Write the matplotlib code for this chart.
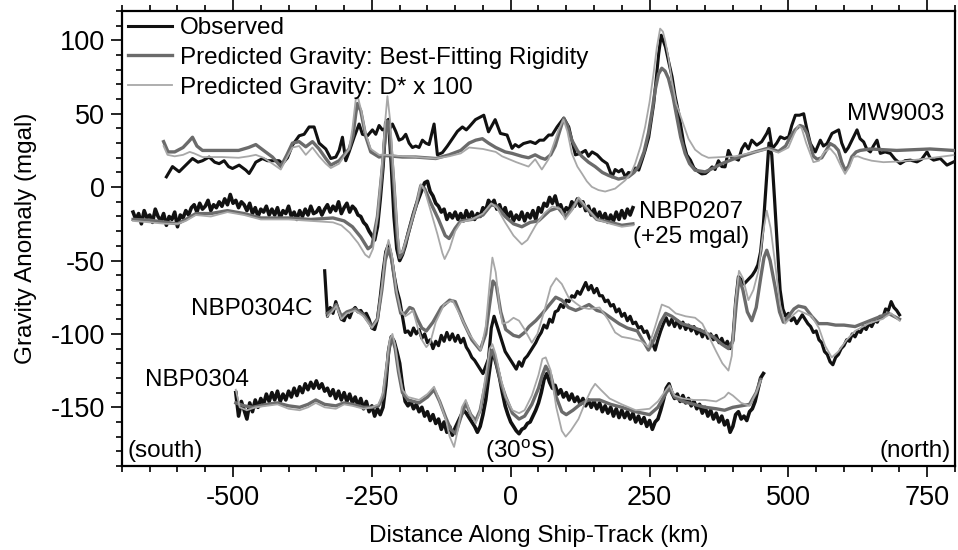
"""Gravity anomaly profiles along four ship tracks, observed vs. predicted."""

import numpy as np
import matplotlib

matplotlib.use("Agg")

import matplotlib.pyplot as plt  # noqa: E402
from matplotlib.lines import Line2D  # noqa: E402
from matplotlib.ticker import MultipleLocator  # noqa: E402

plt.rcParams["font.family"] = ["Liberation Sans", "DejaVu Sans"]
plt.rcParams["axes.unicode_minus"] = False

OBS_COLOR = "#111111"
BEST_COLOR = "#6b6b6b"
DSTAR_COLOR = "#a8a8a8"

# ---------------------------------------------------------------- MW9003
MW9003_OBS = [
    (-620, 7), (-609, 14), (-597, 10.5), (-585, 15), (-573, 19.5), (-563, 17),
    (-555, 18), (-543, 20.5), (-533, 17), (-525, 16), (-516, 18), (-508, 14),
    (-501, 12.7), (-489, 15), (-477, 11.6), (-471, 9.3), (-465, 13), (-459, 17),
    (-447, 19.5), (-438, 18), (-429, 18), (-417, 18), (-411, 16), (-402, 20),
    (-393, 28.6), (-381, 35), (-372, 36), (-363, 41), (-354, 41), (-345, 30),
    (-333, 26), (-324, 19.5), (-315, 20.5), (-309, 25), (-303, 34), (-297, 18),
    (-291, 24), (-282, 34), (-273, 43), (-267, 36), (-258, 35), (-249, 39),
    (-243, 36), (-237, 42), (-231, 39), (-225, 40), (-219, 39), (-213, 43),
    (-207, 38), (-201, 32), (-195, 33), (-189, 36), (-183, 30), (-177, 27),
    (-171, 28), (-165, 27), (-159, 32), (-153, 30), (-147, 29), (-138, 43),
    (-132, 22), (-123, 23.5), (-114, 28), (-105, 33), (-96, 38), (-87, 41),
    (-80, 39), (-75, 41), (-63.5, 46), (-48.5, 49), (-40, 37.7), (-28, 46),
    (-18.6, 36.6), (-6.6, 35.5), (2.4, 26.4), (8, 29), (14.4, 27.4), (23, 29.7),
    (35.4, 31), (44.4, 29.7), (52, 32), (59.4, 32), (68.4, 35.5), (74.4, 35.5),
    (83.5, 41), (95.5, 47), (104.5, 41), (110, 32), (116.5, 22), (125.5, 23),
    (134.5, 25), (140, 21), (146.5, 24), (155.5, 22), (164.5, 18.4), (173.5, 16),
    (182.5, 7), (188, 12), (194.5, 10.4), (200, 12), (206.5, 7), (212, 10),
    (218.5, 9.3), (224, 13), (230.5, 11.6), (236.5, 18.4), (242, 25), (248.5, 34),
    (257.5, 57), (266.5, 91), (271, 103.5), (278.6, 95.5), (284, 86), (290.6, 75),
    (296, 62), (302.6, 50), (311.6, 29.7), (317, 22), (323.6, 18.4), (330, 13),
    (338.6, 10.4), (344, 9), (350.6, 9.3), (356, 11), (362.6, 13.8), (368, 12),
    (374, 18), (380, 14), (386, 13.8), (392, 25), (398, 20), (404, 19.5),
    (410, 18.4), (416, 26), (422, 29.7), (428, 26), (434, 32), (443, 28.6),
    (452, 31), (461, 36.6), (465, 40), (470, 28), (473.5, 27.4), (479, 30),
    (485.5, 34.3), (493, 33), (500.5, 34.3), (506, 42), (512.5, 49), (520, 49),
    (527.5, 50), (533, 40), (539.5, 29.7), (548.5, 24), (557.5, 32), (563, 28),
    (569.5, 29.7), (578.5, 36.6), (590.5, 39), (596, 30), (602.5, 24), (608, 27),
    (614.5, 32), (623.5, 39), (629, 33), (635.5, 30.8), (641, 26), (647.5, 24),
    (653, 28), (659.5, 32), (665.5, 23), (674, 24), (683.5, 23), (692, 19),
    (701.5, 16), (710, 18), (719.5, 18.4), (731.5, 17.2), (740, 19), (749.5, 24),
    (755, 20), (761.5, 18.4), (773.5, 19.5), (785.5, 15), (797.5, 17.2),
]
MW9003_BEST = [
    (-625, 31), (-617, 24), (-605, 24), (-590, 27), (-580, 31), (-573, 34),
    (-565, 28), (-555, 25), (-520, 25), (-490, 25), (-472, 27), (-459, 29),
    (-445, 25), (-429, 20.5), (-414, 14), (-403, 22), (-393, 30), (-381, 31),
    (-369, 27.5), (-357, 31), (-345, 26), (-333, 19.5), (-324, 15), (-309, 18),
    (-291, 26), (-284, 35), (-279, 50), (-276, 57), (-270, 52), (-261, 34.5),
    (-252, 24), (-237, 20.5), (-225, 21.5), (-195, 20.5), (-171, 20.5),
    (-135, 19.5), (-111, 22), (-90, 25), (-75, 30), (-63, 32), (-51, 33),
    (-40, 30), (-27, 27), (-10, 24), (2.4, 23), (20, 21), (32, 20), (44, 22),
    (54, 20), (62, 19), (72, 22), (80, 28), (88, 38), (95.5, 47), (102, 42),
    (110, 32), (120, 25), (128, 21), (140, 17), (152, 14), (165, 10), (176, 8),
    (194, 5.5), (212, 7), (222, 10), (230, 14), (240, 24), (248, 37), (255, 53),
    (260, 66), (266, 77), (272, 81), (278, 79), (284, 74), (292, 62), (299, 48),
    (306, 34), (314, 23), (322, 16), (332, 11.5), (350, 10.4), (365, 13),
    (380, 16), (400, 19), (416, 21), (440, 24), (464, 26.6), (482, 24.3),
    (495, 28), (503, 34), (512, 39), (521, 42), (527, 41), (533, 37), (540, 28),
    (545, 21), (552, 19), (560, 20), (568, 25), (575, 29.7), (583, 28), (590, 25),
    (596, 17), (602, 11.6), (608, 14), (614, 20.6), (622, 24), (629, 25),
    (647, 26), (695, 25), (755, 26), (797, 25),
]
MW9003_DSTAR = [
    (-625, 28), (-618, 22), (-605, 21), (-590, 22), (-578, 24), (-570, 23),
    (-555, 20.5), (-520, 20.5), (-490, 20), (-472, 21), (-459, 22), (-445, 20),
    (-429, 16), (-414, 12), (-403, 20), (-393, 27), (-381, 28), (-369, 22),
    (-357, 27), (-345, 21), (-333, 16), (-324, 13), (-309, 16), (-291, 26),
    (-285, 40), (-279, 60), (-275, 61), (-269, 52), (-261, 36), (-252, 26),
    (-237, 22), (-225, 22), (-195, 21), (-171, 20.5), (-135, 19.5), (-111, 21),
    (-90, 23), (-75, 27), (-50, 26), (-27, 24), (-15.5, 21), (10, 17), (32, 14),
    (44, 19), (56, 12), (68, 19), (78, 30), (86, 39), (95, 46), (102, 38),
    (110, 23), (120, 14), (128, 9.4), (137, 4), (146, 0.2), (158, -2), (170, -3),
    (188, -1), (206, 4.6), (216, 9), (224, 16), (234, 28), (242, 41), (250, 58),
    (257, 77), (263, 95), (269, 108), (274, 106), (278, 100), (284, 88),
    (290, 73), (298, 57), (308, 46), (320, 33), (332, 25.5), (344, 22),
    (356, 20), (380, 20.5), (404, 21), (440, 24), (464, 26), (482, 23.5),
    (500, 27), (510, 36), (518, 42), (524, 40), (532, 30), (545, 17), (555, 18),
    (565, 24), (575, 26.4), (585, 22), (595, 14), (602, 9), (610, 14),
    (617, 20.6), (625, 21), (635, 19.5), (650, 18), (671, 17), (700, 17.5),
    (725, 18.4), (760, 20), (797, 21.8),
]

# ---------------------------------------------------------------- NBP0207 (+25 mgal)
NBP0207_OBS_START, NBP0207_OBS_STEP = -680, 5
NBP0207_OBS = [
    -17, -22, -18, -25, -16, -21, -19, -24, -15, -20,
    -23, -18, -26, -20, -22, -17, -27, -19, -21, -16,
    -19, -14, -12, -17, -11, -15, -13, -9, -16, -12,
    -14, -10, -13, -8, -12, -5, -11, -9, -14, -10,
    -12, -16, -11, -18, -14, -20, -15, -17, -13, -19,
    -15, -19, -14, -21, -16, -18, -13, -20, -17, -22,
    -16, -20, -15, -19, -13, -18, -17, -14, -19, -15,
    -12, -17, -13, -16, -10, -18, -14, -11, -17, -13,
    -15, -19, -20, -24, -26, -30, -33, -36, -27, -8,
    14, 44, 46, 16, -20, -42, -50, -46, -40, -32,
    -25, -18, -12, -7, -2, 3, 4, -3, -6, -11,
    -13, -17, -15, -22, -18, -21, -17, -22, -18, -23,
    -16, -21, -17, -22, -18, -20, -14, -16, -9, -12,
    -9, -15, -12, -18, -14, -21, -17, -23, -19, -22,
    -17, -23, -18, -21, -16, -22, -14, -17, -11, -13,
    -7, -11, -6, -13, -12, -18, -14, -16, -10, -13,
    -8, -13, -10, -16, -13, -19, -15, -21, -17, -22,
    -18, -24, -19, -23, -17, -22, -16, -21, -15, -19,
    -14,
]
NBP0207_BEST = [
    (-680, -22), (-650, -22.5), (-620, -24), (-600, -25), (-585, -22),
    (-567, -18), (-540, -18), (-510, -16), (-480, -18), (-450, -21), (-400, -21),
    (-360, -22), (-320, -21), (-300, -23), (-285, -27), (-270, -34), (-257, -42),
    (-250, -40), (-240, -20), (-232, 10), (-226, 35), (-222, 45), (-217, 35),
    (-210, 0), (-204, -35), (-200, -48), (-195, -45), (-185, -32), (-170, -12),
    (-162, 1), (-155, -1), (-145, -10), (-130, -22), (-118, -33), (-111, -35),
    (-100, -28), (-90, -23), (-70, -22), (-50, -19), (-35, -12), (-25, -13),
    (-10, -20), (5, -25), (20, -27), (35, -24), (50, -23), (70, -16), (85, -14),
    (98, -20), (110, -15), (122, -8), (135, -14), (155, -22), (180, -24),
    (200, -26), (220, -25),
]
NBP0207_DSTAR = [
    (-680, -23), (-650, -24), (-620, -25), (-600, -25), (-585, -23),
    (-567, -19), (-540, -20), (-510, -17), (-480, -19), (-450, -22), (-400, -22),
    (-360, -23), (-320, -24), (-305, -26), (-290, -31), (-275, -38), (-262, -46),
    (-255, -48), (-248, -42), (-240, -20), (-232, 15), (-226, 45), (-222, 62),
    (-217, 45), (-210, 5), (-204, -30), (-200, -45), (-195, -44), (-185, -32),
    (-170, -12), (-162, 2), (-155, -2), (-145, -15), (-132, -32), (-123, -45),
    (-119, -49), (-110, -42), (-100, -30), (-90, -24), (-70, -22), (-50, -18),
    (-35, -11), (-25, -14), (-10, -24), (5, -33), (20, -39), (30, -36),
    (45, -26), (60, -18), (75, -13), (90, -15), (98, -22), (110, -16), (122, -7),
    (135, -13), (155, -22), (180, -25), (200, -27), (220, -26),
]

# ---------------------------------------------------------------- NBP0304C
NBP0304C_OBS_START, NBP0304C_OBS_STEP = -335, 5
NBP0304C_OBS = [
    -57, -88, -82, -86, -78, -84, -90, -91, -86, -89,
    -84, -82, -85, -84, -87, -86, -90, -96, -97, -90,
    -75, -58, -44, -39, -47, -60, -70, -77, -88, -99,
    -98, -101, -96, -100, -97, -103, -100, -106, -104, -110,
    -105, -108, -101, -105, -99, -104, -100, -105, -101, -106,
    -103, -109, -112, -116, -118, -121, -124, -127, -122, -117,
    -96, -88, -94, -100, -106, -112, -115, -118, -121, -124,
    -119, -122, -117, -115, -112, -109, -106, -102, -99, -94,
    -96, -90, -92, -85, -84, -80, -82, -77, -78, -74,
    -75, -71, -73, -69, -65, -70, -67, -72, -69, -74,
    -74, -78, -77, -81, -80, -85, -83, -88, -86, -91,
    -88, -93, -92, -96, -95, -99, -98, -103, -106, -111,
    -104, -98, -93, -89, -94, -90, -95, -91, -96, -92,
    -97, -94, -98, -95, -100, -97, -102, -98, -103, -100,
    -104, -101, -106, -103, -108, -105, -110, -104, -78, -61,
    -63, -66, -64, -62, -60, -57, -53, -44, -25, 2,
    30, 22, -8, -40, -70, -83, -88, -86, -91, -89,
    -93, -90, -87, -90, -93, -95, -99, -98, -104, -106,
    -112, -114, -119, -121, -116, -114, -110, -108, -104, -105,
    -100, -102, -98, -99, -95, -97, -93, -95, -91, -92,
    -88, -89, -83, -84, -78, -82, -84, -87,
]
NBP0304C_BEST = [
    (-330, -86), (-322, -84), (-314, -80), (-305, -88), (-295, -85), (-280, -83),
    (-265, -87), (-250, -95), (-240, -90), (-232, -70), (-226, -50), (-220, -42),
    (-214, -50), (-206, -72), (-198, -86), (-190, -86), (-182, -82), (-176, -83),
    (-168, -90), (-160, -96), (-152, -98), (-140, -92), (-125, -82), (-110, -77),
    (-100, -78), (-85, -92), (-70, -104), (-55, -111), (-45, -100), (-38, -80),
    (-32, -64), (-26, -67), (-18, -85), (-9, -97), (5, -101), (15, -102),
    (25, -99), (33, -95), (45, -91), (57, -86), (70, -80), (81, -75), (92, -77),
    (104, -82), (117, -84), (130, -82), (141, -80), (155, -84), (165, -85),
    (180, -89), (195, -93), (210, -96), (228, -98), (248, -111), (258, -104),
    (270, -92), (279, -86), (290, -88), (308, -93), (325, -95), (345, -98),
    (365, -102), (380, -107), (392, -110), (400, -105), (406, -80), (411, -62),
    (418, -70), (426, -85), (434, -91), (442, -82), (450, -62), (456, -48),
    (461, -43), (467, -50), (476, -68), (484, -85), (491, -92), (500, -88),
    (510, -83), (518, -81), (530, -82), (542, -88), (554, -93), (570, -93),
    (585, -94), (600, -94), (620, -95), (640, -92), (660, -89), (680, -86),
    (700, -90),
]
NBP0304C_DSTAR = [
    (-330, -88), (-322, -85), (-314, -81), (-305, -90), (-295, -86), (-280, -84),
    (-265, -88), (-250, -96), (-240, -90), (-232, -68), (-226, -46), (-220, -36),
    (-214, -46), (-206, -70), (-198, -84), (-190, -88), (-182, -86), (-176, -84),
    (-168, -95), (-160, -104), (-152, -109), (-145, -106), (-135, -92),
    (-120, -80), (-105, -77), (-90, -88), (-75, -100), (-60, -108), (-54, -111),
    (-45, -95), (-38, -66), (-33, -48), (-27, -58), (-20, -82), (-15, -93),
    (-5, -92), (5, -89), (15, -91), (25, -97), (38, -106), (48, -100), (60, -85),
    (72, -68), (82, -62), (92, -66), (104, -75), (117, -79), (128, -82),
    (141, -83), (160, -82), (175, -90), (188, -99), (200, -102), (215, -103),
    (235, -105), (248, -109), (260, -95), (272, -80), (285, -82), (297, -86),
    (315, -88), (332, -89), (345, -93), (357, -102), (370, -112), (381, -120),
    (392, -125), (398, -115), (404, -80), (411, -57), (418, -62), (428, -77),
    (437, -70), (446, -57), (454, -32), (461, -16), (468, -28), (476, -52),
    (485, -80), (494, -93), (506, -88), (518, -84), (530, -86), (542, -88),
    (555, -96), (566, -108), (578, -116), (590, -112), (605, -104), (620, -98),
    (644, -93), (668, -90), (685, -86), (700, -91),
]

# ---------------------------------------------------------------- NBP0304
NBP0304_OBS_START, NBP0304_OBS_STEP = -495, 5
NBP0304_OBS = [
    -140, -156, -146, -152, -158, -147, -153, -145, -150, -144,
    -148, -141, -146, -140, -145, -139, -146, -141, -145, -139,
    -143, -137, -142, -136, -140, -134, -138, -133, -137, -132,
    -137, -134, -139, -137, -142, -138, -144, -139, -145, -140,
    -146, -141, -147, -143, -149, -144, -151, -146, -153, -149,
    -156, -151, -155, -150, -135, -112, -102, -105, -112, -120,
    -135, -146, -149, -146, -151, -148, -153, -150, -156, -153,
    -159, -155, -161, -158, -165, -160, -167, -163, -169, -164,
    -160, -156, -152, -154, -157, -160, -163, -167, -163, -155,
    -145, -130, -116, -115, -122, -130, -140, -149, -155, -160,
    -163, -166, -168, -165, -164, -161, -160, -156, -152, -147,
    -140, -131, -127, -133, -137, -135, -141, -138, -143, -140,
    -145, -141, -146, -143, -148, -144, -149, -145, -150, -146,
    -151, -147, -153, -149, -154, -150, -156, -151, -157, -152,
    -157, -153, -158, -154, -160, -156, -161, -157, -163, -159,
    -165, -160, -158, -152, -145, -137, -134, -140, -144, -141,
    -146, -142, -147, -144, -149, -146, -151, -148, -154, -150,
    -156, -152, -158, -154, -160, -156, -162, -159, -167, -163,
    -155, -153, -158, -156, -159, -153, -151, -146, -138, -130,
    -127,
]
NBP0304_BEST = [
    (-495, -147), (-480, -149), (-465, -150), (-440, -148), (-420, -147),
    (-400, -149), (-380, -150), (-365, -148), (-351, -145), (-335, -148),
    (-315, -149), (-300, -147), (-285, -148), (-265, -150), (-250, -150),
    (-238, -149), (-230, -143), (-224, -125), (-218, -107), (-213, -103),
    (-208, -110), (-202, -126), (-195, -140), (-185, -145), (-165, -147),
    (-150, -143), (-138, -138), (-128, -146), (-117, -157), (-108, -165),
    (-99, -168), (-90, -157), (-81, -147), (-72, -155), (-63, -159), (-55, -152),
    (-45, -133), (-38, -116), (-33, -111), (-27, -118), (-18, -133), (-9, -143),
    (3, -154), (15, -158), (25, -156), (38, -148), (50, -137), (57, -128),
    (63, -122), (72, -128), (81, -142), (92, -153), (100, -155), (112, -152),
    (125, -148), (140, -145), (160, -145), (180, -148), (200, -150), (225, -153),
    (250, -155), (265, -150), (280, -140), (286, -137), (295, -143), (310, -146),
    (330, -148), (350, -150), (370, -151), (385, -152), (400, -150), (415, -149),
    (430, -148), (442, -140), (450, -131),
]
NBP0304_DSTAR = [
    (-495, -138), (-488, -150), (-475, -152), (-460, -150), (-440, -149),
    (-420, -148), (-400, -151), (-380, -152), (-365, -150), (-351, -147),
    (-335, -150), (-315, -151), (-300, -148), (-285, -149), (-265, -151),
    (-250, -150), (-238, -148), (-230, -140), (-224, -122), (-218, -104),
    (-213, -100), (-208, -108), (-202, -124), (-195, -138), (-185, -143),
    (-165, -145), (-150, -141), (-138, -136), (-128, -146), (-117, -158),
    (-110, -170), (-102, -177), (-95, -165), (-88, -150), (-81, -145),
    (-72, -155), (-63, -161), (-55, -152), (-45, -128), (-38, -110), (-33, -107),
    (-27, -114), (-18, -130), (-9, -143), (3, -152), (15, -154), (25, -152),
    (38, -142), (50, -128), (57, -117), (63, -116), (72, -125), (82, -150),
    (92, -166), (99, -170), (108, -166), (122, -158), (135, -146), (145, -138),
    (152, -134), (162, -138), (178, -144), (200, -148), (225, -152), (250, -151),
    (265, -146), (280, -138), (286, -135), (295, -142), (310, -144), (330, -145),
    (350, -145), (370, -146), (385, -143), (392, -140), (400, -142), (415, -147),
    (430, -149), (442, -140), (450, -132),
]

TEXT_SIZE = 17.5
TICK_SIZE = 19.5


def _pairs(points):
    arr = np.asarray(points, dtype=float)
    return arr[:, 0], arr[:, 1]


def _series(start, step, values):
    vals = np.asarray(values, dtype=float)
    return start + step * np.arange(len(vals)), vals


def _draw_profile(ax, obs_xy, best, dstar, obs_lw=1.8):
    ax.plot(*obs_xy, color=OBS_COLOR, lw=obs_lw, zorder=3,
            solid_joinstyle="round")
    ax.plot(*_pairs(best), color=BEST_COLOR, lw=2.4, zorder=4)
    ax.plot(*_pairs(dstar), color=DSTAR_COLOR, lw=1.3, zorder=5)


fig = plt.figure(figsize=(9.58, 5.5), dpi=100)
ax = fig.add_axes([0.1273, 0.1527, 0.8696, 0.8273])

# ship-track profiles, north of south
_draw_profile(ax, _pairs(MW9003_OBS), MW9003_BEST, MW9003_DSTAR, obs_lw=2.2)
_draw_profile(ax, _series(NBP0207_OBS_START, NBP0207_OBS_STEP, NBP0207_OBS),
              NBP0207_BEST, NBP0207_DSTAR, obs_lw=2.6)
_draw_profile(ax, _series(NBP0304C_OBS_START, NBP0304C_OBS_STEP, NBP0304C_OBS),
              NBP0304C_BEST, NBP0304C_DSTAR, obs_lw=2.3)
_draw_profile(ax, _series(NBP0304_OBS_START, NBP0304_OBS_STEP, NBP0304_OBS),
              NBP0304_BEST, NBP0304_DSTAR, obs_lw=2.6)

ax.set_xlim(-700, 800)
ax.set_ylim(-190, 120)
ax.xaxis.set_major_locator(MultipleLocator(250))
ax.xaxis.set_minor_locator(MultipleLocator(50))
ax.yaxis.set_major_locator(MultipleLocator(50))
ax.yaxis.set_minor_locator(MultipleLocator(10))
ax.tick_params(which="both", direction="out", top=True, right=False,
               labelsize=TICK_SIZE, width=1.2)
ax.tick_params(which="major", length=8)
ax.tick_params(which="minor", length=4)
ax.tick_params(axis="x", which="major", pad=6)
ax.tick_params(axis="y", which="major", pad=4)
for spine in ax.spines.values():
    spine.set_linewidth(1.6)

ax.set_xlabel("Distance Along Ship-Track (km)", fontsize=TEXT_SIZE, labelpad=10)
ax.set_ylabel("Gravity Anomaly (mgal)", fontsize=TEXT_SIZE, labelpad=10)

# Track names and orientation notes
ax.text(780, 50, "MW9003", fontsize=TEXT_SIZE, ha="right", va="center")
ax.text(324, -25.5, "NBP0207\n(+25 mgal)", fontsize=TEXT_SIZE, ha="center",
        va="center", linespacing=1.2)
ax.text(-466, -83, "NBP0304C", fontsize=TEXT_SIZE, ha="center", va="center")
ax.text(-565, -131.5, "NBP0304", fontsize=TEXT_SIZE, ha="center", va="center")
ax.text(-690, -180, "(south)", fontsize=TEXT_SIZE, ha="left", va="center")
ax.text(16, -180, "(30$^{\\mathregular{o}}$S)", fontsize=TEXT_SIZE, ha="center",
        va="center")
ax.text(793, -180, "(north)", fontsize=TEXT_SIZE, ha="right", va="center")

handles = [
    Line2D([], [], color=OBS_COLOR, lw=2.2),
    Line2D([], [], color=BEST_COLOR, lw=2.4),
    Line2D([], [], color=DSTAR_COLOR, lw=1.3),
]
labels = [
    "Observed",
    "Predicted Gravity: Best-Fitting Rigidity",
    "Predicted Gravity: D* x 100",
]
ax.legend(handles, labels, loc="upper left", frameon=False, fontsize=TEXT_SIZE,
          handlelength=1.8, handletextpad=0.35, labelspacing=0.32,
          borderaxespad=0.2, borderpad=0.05)

fig.savefig("out.png", dpi=100)
